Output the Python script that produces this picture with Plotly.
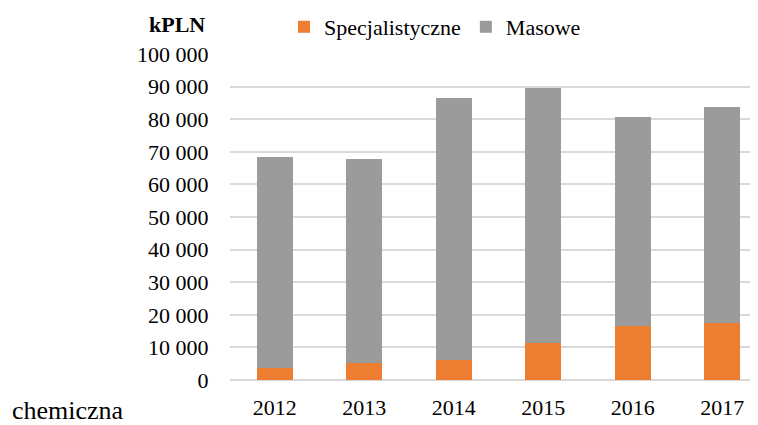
import plotly.graph_objects as go

years = ["2012", "2013", "2014", "2015", "2016", "2017"]
specjalistyczne = [3700, 5200, 6200, 11450, 16550, 17400]
masowe = [64600, 62700, 80200, 78250, 64250, 66300]
y_ticks = [0, 10000, 20000, 30000, 40000, 50000, 60000, 70000, 80000, 90000, 100000]

FONT = "Liberation Serif"

fig = go.Figure()
fig.add_trace(go.Bar(x=years, y=specjalistyczne, name="Specjalistyczne",
                     marker=dict(color="#ED7D31", line=dict(width=0))))
fig.add_trace(go.Bar(x=years, y=masowe, name="Masowe",
                     marker=dict(color="#9B9B9B", line=dict(width=0))))

fig.update_layout(
    width=750, height=417,
    barmode="stack", bargap=0.6,
    separators=", ",
    paper_bgcolor="white", plot_bgcolor="white",
    margin=dict(l=222, r=0, t=46, b=45, autoexpand=False),
    font=dict(family=FONT, size=22, color="#000000"),
    showlegend=True,
    legend=dict(orientation="h", x=(284 - 230) / 528, xanchor="left", y=(380 - 27) / 326, yanchor="middle",
                font=dict(family=FONT, size=22), itemwidth=30,
                bgcolor="rgba(0,0,0,0)", traceorder="normal"),
    xaxis=dict(type="category", range=[-0.5, 5.4], showgrid=False, showline=False,
               ticks="outside", ticklen=8, tickcolor="rgba(0,0,0,0)",
               tickfont=dict(family=FONT, size=22)),
    yaxis=dict(range=[0, 100000], tickvals=y_ticks, tickformat=",d",
               showgrid=True, gridcolor="#D9D9D9", gridwidth=2,
               zeroline=True, zerolinecolor="#D9D9D9", zerolinewidth=2,
               showline=False, ticks="outside", ticklen=16, tickcolor="rgba(0,0,0,0)",
               tickfont=dict(family=FONT, size=22)),
    annotations=[
        dict(text="<b>kPLN</b>", xref="paper", yref="paper", x=(177 - 230) / 528, y=(380 - 24) / 326,
             xanchor="center", yanchor="middle", showarrow=False,
             font=dict(family=FONT, size=22)),
        dict(text="chemiczna", xref="paper", yref="paper", x=(10 - 230) / 528, y=(380 - 410) / 326,
             xanchor="left", yanchor="middle", showarrow=False,
             font=dict(family=FONT, size=26)),
    ],
)

fig.write_html("out.html")
